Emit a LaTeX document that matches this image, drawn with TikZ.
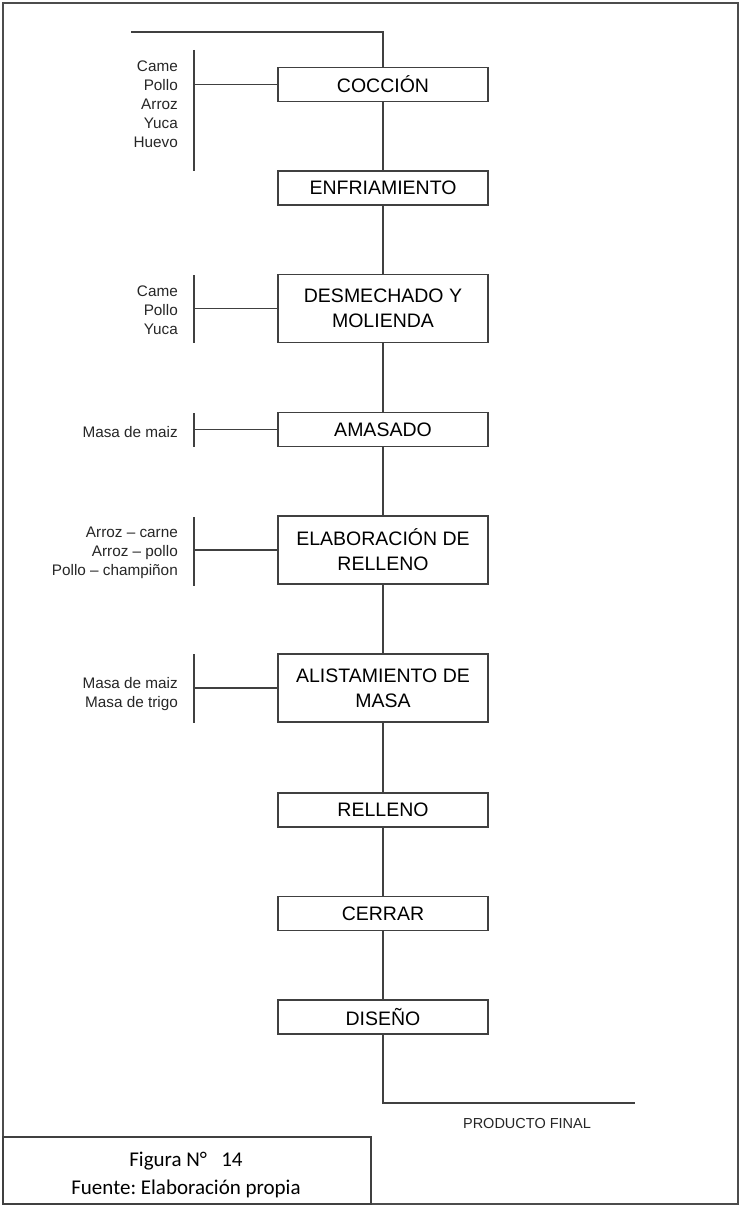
\documentclass[tikz,border=0pt]{standalone}
\usepackage{fontspec}
\setmainfont{Liberation Sans}
\newfontfamily\calfont{Carlito}
\frenchspacing
\begin{document}
\begin{tikzpicture}[x=1pt,y=-1pt,
  ln/.style={draw=black!75, line width=1.3pt},
  stepbox/.style={draw=black!75, line width=1.3pt, minimum width=210pt, minimum height=34pt, inner sep=0pt, align=center, font=\fontsize{19.5}{25}\selectfont},
  tallbox/.style={stepbox, minimum height=68pt},
  lab/.style={anchor=east, align=right, inner sep=0pt, font=\fontsize{15.3}{19}\selectfont, text=black!85},
  captxt/.style={anchor=base, inner sep=0pt, font=\calfont\fontsize{21}{20}\selectfont}]
\useasboundingbox (0,0) rectangle (741,1207);
\draw[line width=1.6pt, draw=black!70] (3,3) rectangle (738,1204);
% boxes
\node[stepbox] (coc) at (383,84.5) {COCCIÓN};
\node[stepbox] (enf) at (383,188) {ENFRIAMIENTO};
\node[tallbox] (des) at (383,308.5) {DESMECHADO Y\\MOLIENDA};
\node[stepbox] (ama) at (383,429.5) {AMASADO};
\node[tallbox] (ela) at (383,550) {ELABORACIÓN DE\\RELLENO};
\node[tallbox] (ali) at (383,688) {ALISTAMIENTO DE\\MASA};
\node[stepbox] (rel) at (383,810) {RELLENO};
\node[stepbox] (cer) at (383,913.5) {CERRAR};
\node[stepbox] (dis) at (383,1017) {DISEÑO};
% main flow
\coordinate (ts) at (131,32);
\coordinate (pf) at (635,1103);
\draw[ln] (ts) -| (coc.north);
\draw[ln] (coc) -- (enf);
\draw[ln] (enf) -- (des);
\draw[ln] (des) -- (ama);
\draw[ln] (ama) -- (ela);
\draw[ln] (ela) -- (ali);
\draw[ln] (ali) -- (rel);
\draw[ln] (rel) -- (cer);
\draw[ln] (cer) -- (dis);
\draw[ln] (dis.south) |- (pf);
\node[inner sep=0pt, font=\fontsize{14.5}{16}\selectfont, text=black!85] (pft) at (527,1123) {PRODUCTO FINAL};
% side inputs
\coordinate (b1t) at (194,50);  \coordinate (b1b) at (194,171);
\coordinate (b2t) at (194,275); \coordinate (b2b) at (194,343);
\coordinate (b3t) at (194,413); \coordinate (b3b) at (194,447);
\coordinate (b4t) at (194,517); \coordinate (b4b) at (194,586);
\coordinate (b5t) at (194,654); \coordinate (b5b) at (194,723);
\draw[ln] (b1t) -- (b1b); \draw[ln] (coc.west) -- (coc.west -| b1t);
\draw[ln] (b2t) -- (b2b); \draw[ln] (des.west) -- (des.west -| b2t);
\draw[ln] (b3t) -- (b3b); \draw[ln] (ama.west) -- (ama.west -| b3t);
\draw[ln] (b4t) -- (b4b); \draw[ln] (ela.west) -- (ela.west -| b4t);
\draw[ln] (b5t) -- (b5b); \draw[ln] (ali.west) -- (ali.west -| b5t);
\node[lab] (l1) at (178,104.5) {Came\\Pollo\\Arroz\\Yuca\\Huevo};
\node[lab] (l2) at (178,310.5) {Came\\Pollo\\Yuca};
\node[lab] (l3) at (178,432) {Masa de maiz};
\node[lab] (l4) at (178,552.5) {Arroz – carne\\Arroz – pollo\\Pollo – champiñon};
\node[lab] (l5) at (178,694) {Masa de maiz\\Masa de trigo};
% caption box
\draw[line width=1.3pt, draw=black!75] (3,1137) rectangle (371,1204);
\node[captxt] (cap1) at (186,1166) {Figura N°\ \ \ 14};
\node[captxt] (cap2) at (186,1194) {Fuente: Elaboración propia};
\end{tikzpicture}
\end{document}
